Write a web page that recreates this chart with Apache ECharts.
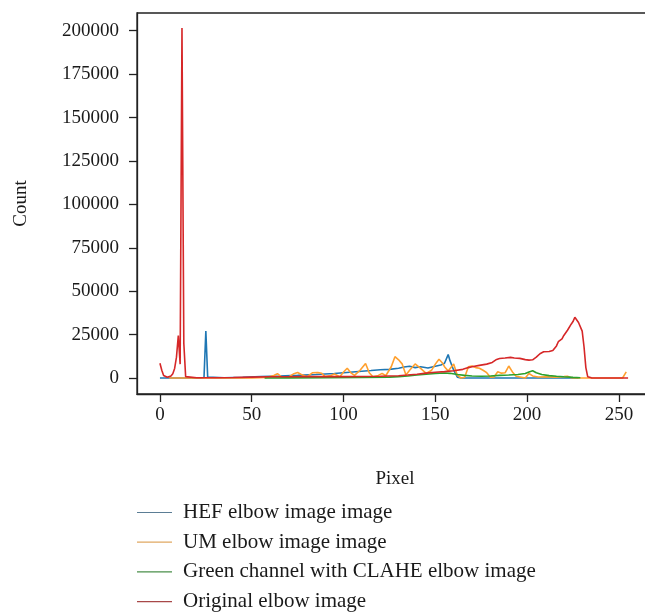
<!DOCTYPE html>
<html>
<head>
<meta charset="utf-8">
<script src="https://cdn.jsdelivr.net/npm/echarts@6/dist/echarts.min.js"></script>
<style>
  html, body { margin: 0; padding: 0; background: #fff; }
  #chart { width: 645px; height: 614px; }
</style>
</head>
<body>
<div id="chart"></div>
<script>
const seriesNames = [
  "HEF elbow image image",
  "UM elbow image image",
  "Green channel with CLAHE elbow image",
  "Original elbow image"
];

// [pixel, count] pairs
const hefData = [
  [0, 0], [22, 0], [24, 300], [25, 27000], [26, 500], [27, 200], [35, 200], [45, 400],
  [55, 800], [65, 1100], [75, 1500], [85, 2000], [95, 2600], [105, 3500], [115, 4300],
  [120, 4800], [125, 5000], [130, 5600], [133, 6300], [136, 6800], [139, 6000], [142, 6500],
  [146, 5800], [150, 6800], [153, 7500], [155, 8500], [157, 13500], [158, 10000], [160, 4500],
  [162, 500], [164, 0], [228, 0]
];

const umData = [
  [5, 0], [50, 0], [58, 300], [62, 1500], [64, 2500], [66, 800], [70, 500], [73, 2500],
  [75, 3200], [77, 2000], [80, 700], [83, 3000], [86, 3200], [88, 2800], [90, 800], [93, 1500],
  [95, 2300], [98, 800], [100, 3500], [102, 5600], [104, 3000], [106, 1500], [109, 4500],
  [112, 8400], [114, 3000], [116, 700], [119, 1500], [121, 2700], [123, 1300], [126, 6500],
  [128, 12300], [130, 10500], [132, 8000], [134, 1700], [136, 4500], [139, 8100], [142, 5600],
  [145, 2700], [148, 4500], [150, 8000], [152, 10800], [154, 8500], [155, 6500], [157, 4000],
  [158, 3600], [160, 8100], [162, 1500], [164, 0], [166, 500], [168, 6500], [170, 6900],
  [172, 6000], [174, 5600], [176, 4500], [178, 3100], [180, 500], [182, 600], [184, 3600],
  [186, 2800], [188, 3000], [190, 6900], [192, 3500], [194, 1000], [195, 0], [199, 0],
  [201, 2600], [203, 1200], [206, 600], [210, 700], [215, 500], [220, 800], [222, 1000],
  [224, 200], [226, 0], [252, 0], [253, 500], [254, 3500]
];

const claheData = [
  [57, 0], [70, 100], [90, 200], [110, 300], [125, 500], [130, 800], [135, 1200], [140, 1700],
  [145, 2200], [150, 2600], [155, 2900], [158, 2700], [162, 2000], [166, 1500], [170, 1200],
  [175, 1000], [180, 1200], [185, 1500], [190, 1700], [195, 2000], [199, 2600], [201, 3500],
  [203, 4200], [205, 3000], [208, 2000], [212, 1400], [216, 1000], [220, 700], [225, 400],
  [229, 200]
];

const originalData = [
  [0, 8500], [1, 4500], [2, 1500], [3, 700], [4, 400], [5, 600], [6, 1200], [7, 2500],
  [8, 5500], [9, 12000], [10, 24500], [11, 8000], [12, 201500], [13, 20000], [14, 800],
  [15, 300], [20, 200], [30, 200], [40, 300], [50, 500], [60, 700], [70, 700], [80, 800],
  [90, 800], [100, 800], [110, 900], [120, 1000], [130, 1300], [135, 1700], [140, 2200],
  [145, 2800], [150, 3300], [155, 3700], [160, 4200], [165, 5000], [168, 6000], [170, 6500],
  [174, 7300], [178, 8000], [181, 9000], [183, 10500], [185, 11200], [188, 11500], [191, 11900],
  [193, 11500], [196, 11300], [199, 10600], [201, 10300], [203, 10500], [205, 12000],
  [207, 14000], [209, 15100], [212, 15300], [214, 15800], [216, 18500], [217, 20900],
  [219, 22500], [220, 24500], [221, 25500], [222, 27500], [224, 31000], [225, 32500],
  [226, 35000], [227, 34000], [228, 32000], [229, 31000], [230, 27000], [231, 18000],
  [232, 6000], [233, 800], [235, 100], [240, 0], [255, 0]
];

const xTicks = [0, 50, 100, 150, 200, 250];
const yTicks = [0, 25000, 50000, 75000, 100000, 125000, 150000, 175000, 200000];

const lineColors = ["#1f77b4", "#ffa02e", "#2ca02c", "#d62728"];
const legendColors = ["#5b7d95", "#e0a862", "#4a8f4a", "#a84848"];

const font = "Liberation Serif";
const chart = echarts.init(document.getElementById("chart"));

const options = {
  animation: false,
  grid: {
    left: 137, top: 13, width: 530, height: 381,
    outerBoundsMode: "none",
    show: true, borderColor: "#222", borderWidth: 1.3
  },
  xAxis: {
    type: "value",
    min: -12.5, max: 276.2,
    name: "Pixel", nameLocation: "middle", nameGap: 76,
    nameTextStyle: { fontFamily: font, fontSize: 19, color: "#1a1a1a", padding: [0, 14, 0, 0] },
    axisLine: { show: true, onZero: false, lineStyle: { color: "#222", width: 1.3 } },
    axisTick: { show: true, length: 8, customValues: xTicks, lineStyle: { color: "#222", width: 1.3 } },
    axisLabel: { customValues: xTicks, margin: 12, fontFamily: font, fontSize: 19, color: "#1a1a1a",
      formatter: v => String(v) },
    splitLine: { show: false }
  },
  yAxis: {
    type: "value",
    min: -9200, max: 210200,
    name: "Count", nameLocation: "middle", nameGap: 106, nameRotate: 90,
    nameTextStyle: { fontFamily: font, fontSize: 19, color: "#1a1a1a" },
    axisLine: { show: true, onZero: false, lineStyle: { color: "#222", width: 1.3 } },
    axisTick: { show: true, length: 8, customValues: yTicks, lineStyle: { color: "#222", width: 1.3 } },
    axisLabel: { customValues: yTicks, margin: 18, fontFamily: font, fontSize: 19, color: "#1a1a1a",
      formatter: v => String(v) },
    splitLine: { show: false }
  },
  legend: {
    orient: "vertical",
    left: 137, top: 502, height: 112,
    padding: 0,
    icon: "rect",
    itemWidth: 35, itemHeight: 1.2, itemGap: 8.7,
    textStyle: { fontFamily: font, fontSize: 21, color: "#1a1a1a", lineHeight: 20, padding: [0, 0, 0, 6] },
    data: seriesNames.map((n, i) => ({ name: n, itemStyle: { color: legendColors[i] } }))
  },
  series: [hefData, umData, claheData, originalData].map((d, i) => ({
    name: seriesNames[i],
    type: "line",
    data: d,
    showSymbol: false,
    color: lineColors[i],
    lineStyle: { width: 1.6, color: lineColors[i] },
    z: 2 + i
  }))
};

chart.setOption(options);
</script>
</body>
</html>
